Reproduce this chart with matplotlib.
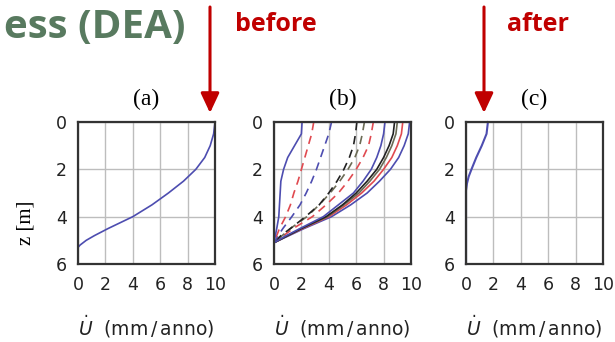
import matplotlib
matplotlib.use("Agg")
import matplotlib.pyplot as plt

# depth samples and velocity profiles
z_a = [0, 0.5, 1, 1.5, 2, 2.5, 3, 3.5, 4, 4.5, 4.8, 5.0, 5.2, 5.3, 6]
u_a = [10, 9.9, 9.65, 9.25, 8.6, 7.7, 6.6, 5.4, 4.0, 2.2, 1.2, 0.6, 0.15, 0, 0]

z_b = [0, 0.5, 1, 1.5, 2, 2.5, 3, 3.5, 4, 4.5, 4.8, 5.1, 6]
u_b_solid = {
    "blue10": [9.9, 9.8, 9.5, 9.1, 8.5, 7.7, 6.8, 5.6, 4.2, 2.2, 1.1, 0, 0],
    "red95": [9.4, 9.3, 9.0, 8.6, 8.0, 7.3, 6.4, 5.3, 4.0, 2.1, 1.0, 0, 0],
    "gray9": [9.0, 8.9, 8.6, 8.2, 7.7, 7.0, 6.2, 5.1, 3.9, 2.0, 1.0, 0, 0],
    "black88": [8.8, 8.7, 8.4, 8.0, 7.5, 6.8, 6.0, 5.0, 3.8, 2.0, 1.0, 0, 0],
    "blue8": [8.1, 8.0, 7.8, 7.5, 7.1, 6.5, 5.8, 4.7, 3.6, 1.9, 0.9, 0, 0],
    "blue2": [2.05, 2.0, 1.5, 1.0, 0.7, 0.5, 0.45, 0.4, 0.35, 0.2, 0.1, 0, 0],
}
u_b_dashed = {
    "red7": [7.25, 7.1, 6.9, 6.5, 6.0, 5.4, 4.7, 3.8, 2.8, 1.4, 0.7, 0, 0],
    "gray65": [6.6, 6.45, 6.25, 5.9, 5.4, 4.8, 4.1, 3.3, 2.4, 1.2, 0.6, 0, 0],
    "black6": [6.05, 5.95, 5.8, 5.5, 5.1, 4.6, 4.0, 3.3, 2.3, 1.2, 0.5, 0, 0],
    "blue4": [4.2, 4.0, 3.7, 3.4, 3.1, 2.75, 2.35, 1.9, 1.3, 0.65, 0.3, 0, 0],
    "red3": [2.9, 2.75, 2.5, 2.25, 2.0, 1.75, 1.45, 1.2, 0.85, 0.4, 0.2, 0, 0],
}

z_c = [0, 0.5, 1, 1.5, 2, 2.3, 2.6, 2.9, 6]
u_c = [1.6, 1.5, 1.15, 0.75, 0.4, 0.2, 0.07, 0, 0]

x_ticks = [0, 2, 4, 6, 8, 10]
z_ticks = [0, 2, 4, 6]
panel_titles = ["(a)", "(b)", "(c)"]

colors = {"blue": "#4d4db0", "red": "#e04a50", "black": "#222222", "gray": "#6b6b55"}

W, H = 615, 342
fig = plt.figure(figsize=(W / 100, H / 100), dpi=100)

lefts = [78, 274, 466]
axes = []
for i, left in enumerate(lefts):
    ax = fig.add_axes([left / W, 1 - 264 / H, 137 / W, 142 / H])
    ax.set_xlim(0, 10)
    ax.set_ylim(6, 0)
    ax.set_xticks(x_ticks)
    ax.set_yticks(z_ticks)
    ax.grid(True, color="#bdbdbd", lw=1.0)
    ax.set_axisbelow(True)
    ax.tick_params(length=0, labelsize=12.5, colors="#222222")
    ax.tick_params(axis="x", pad=9)
    ax.tick_params(axis="y", pad=8)
    for s in ax.spines.values():
        s.set_linewidth(1.6)
        s.set_color("#333333")
    ax.set_title(panel_titles[i], family="Liberation Serif", fontsize=17, pad=12)
    ax.set_xlabel(r"$\dot{U}$  (mm$\,$/$\,$anno)", fontsize=13.5, labelpad=14,
                  color="#222222")
    axes.append(ax)

def col(name):
    for k in colors:
        if name.startswith(k):
            return colors[k]

axes[0].plot(u_a, z_a, color=colors["blue"], lw=1.2, clip_on=False)

for name, u in u_b_dashed.items():
    axes[1].plot(u, z_b, color=col(name), lw=1.2, dashes=(5, 3.5), clip_on=False)
for name, u in u_b_solid.items():
    axes[1].plot(u, z_b, color=col(name), lw=1.2, clip_on=False)

axes[2].plot(u_c, z_c, color=colors["blue"], lw=1.5, clip_on=False)

fig.text(26 / W, 1 - 223 / H, "z [m]", rotation=90, family="Liberation Serif",
         fontsize=15, ha="center", va="center")

# slide header pieces
fig.text(186 / W, 1 - 38 / H, "ess (DEA)", family="Open Sans", weight="bold",
         fontsize=29, color="#587a5f", ha="right", va="baseline")
fig.text(235 / W, 1 - 31 / H, "before", family="Open Sans", weight="bold",
         fontsize=18, color="#c00000", ha="left", va="baseline")
fig.text(507 / W, 1 - 31 / H, "after", family="Open Sans", weight="bold",
         fontsize=18, color="#c00000", ha="left", va="baseline")

for xa in [210, 484]:
    axes[0].annotate("", xy=(xa, H - 113), xytext=(xa, H - 7),
                     xycoords="figure pixels", textcoords="figure pixels",
                     arrowprops=dict(arrowstyle="-|>,head_length=0.6,head_width=0.28",
                                     color="#c00000", lw=2.2, mutation_scale=20,
                                     shrinkA=0, shrinkB=0))

fig.savefig("out.png", dpi=100)
